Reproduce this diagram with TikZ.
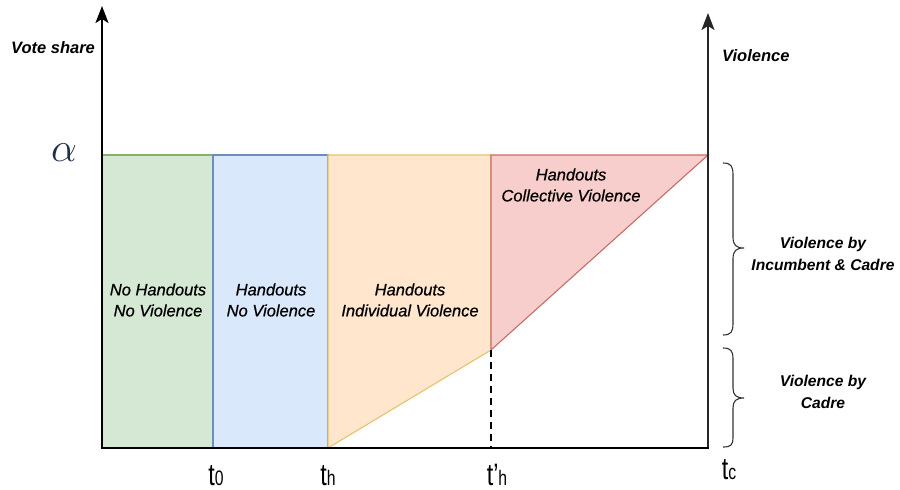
\documentclass[tikz,border=0pt]{standalone}
\usepackage{fontspec}
\setmainfont{Liberation Sans}
\usetikzlibrary{arrows.meta}
\definecolor{gfill}{HTML}{D5E8D4}\definecolor{gline}{HTML}{82B366}
\definecolor{bfill}{HTML}{DAE8FC}\definecolor{bline}{HTML}{6C8EBF}
\definecolor{ofill}{HTML}{FFE6CC}\definecolor{oline}{HTML}{E3C46B}
\definecolor{rfill}{HTML}{F8CECC}\definecolor{rline}{HTML}{C96B66}
\definecolor{alphacol}{HTML}{1F2D4D}
\tikzset{
  axis/.style={line width=2.2pt,draw=black,-{Stealth[length=17pt,width=13pt,inset=4pt]}},
  region/.style={line width=1.1pt},
  lbl/.style={font=\fontsize{16.5}{21}\selectfont\itshape\addfontfeature{FakeBold=0.6},align=center,inner sep=0pt},
  blbl/.style={font=\fontsize{16.5}{23}\selectfont\bfseries\itshape,align=center,inner sep=0pt},
  rlbl/.style={font=\fontsize{15.6}{22}\selectfont\bfseries\itshape,align=center,inner sep=0pt},
  bracestyle/.style={line width=1.1pt,draw=black!80},
  tick/.style={inner sep=0pt,anchor=base}
}
\newcommand{\tlab}[2]{\scalebox{0.75}[1]{\fontsize{31}{31}\selectfont #1\fontsize{21}{21}\selectfont #2}}
\begin{document}
\begin{tikzpicture}[x=1pt,y=-1pt]
\useasboundingbox (0,0) rectangle (900,490);
% coordinates
\coordinate (o) at (102,448);
\coordinate (ytop) at (102,6);
\coordinate (r0) at (708,448);
\coordinate (rtop) at (708,13);
% regions
\path[region,fill=gfill,draw=gline] (102,155) rectangle (213,448);
\path[region,fill=bfill,draw=bline] (213,155) rectangle (328,448);
\path[region,fill=ofill,draw=oline] (328,155) -- (491,155) -- (491,350) -- (328,448) -- cycle;
\path[region,fill=rfill,draw=rline] (491,155) -- (708,155) -- (491,350) -- cycle;
\coordinate (p) at (491,350);
\coordinate (pb) at (491,448);
\draw[line width=1.8pt,dash pattern=on 7pt off 5pt] (p) -- (pb);
% axes
\draw[axis] (o) -- (ytop);
\draw[axis,draw=black!85] (r0) -- (rtop);
\draw[line width=2.2pt] ([xshift=-1pt]o) -- ([xshift=1pt]r0);
% labels
\node[blbl] (vs) at (53,48) {Vote share};
\node[blbl,anchor=west] (vi) at (722,56) {Violence};
\node[text=alphacol,inner sep=0pt] (al) at (64,153) {\fontsize{24}{24}\selectfont\scalebox{1.65}{$\alpha$}};
\node[lbl] (l1) at (158,300) {No Handouts\\No Violence};
\node[lbl] (l2) at (271,300) {Handouts\\No Violence};
\node[lbl] (l3) at (410,300) {Handouts\\Individual Violence};
\node[lbl] (l4) at (571,185) {Handouts\\Collective Violence};
% ticks
\node[tick] (t0) at (216,485) {\tlab{t}{0}};
\node[tick] (th) at (328,485) {\tlab{t}{h}};
\node[tick] (tph) at (497,485) {\tlab{t'}{h}};
\node[tick] (tc) at (729,479) {\tlab{t}{c}};
% braces
\draw[bracestyle] (723,163) .. controls (731,163) and (733,166) .. (733,175) -- (733,237)
  .. controls (733,245) and (736,248) .. (744,248)
  .. controls (736,248) and (733,251) .. (733,259) -- (733,323)
  .. controls (733,332) and (731,335) .. (723,335);
\draw[bracestyle] (723,348) .. controls (731,348) and (733,351) .. (733,359) -- (733,388)
  .. controls (733,395) and (736,398) .. (744,398)
  .. controls (736,398) and (733,401) .. (733,408) -- (733,437)
  .. controls (733,445) and (731,447) .. (723,447);
\node[rlbl] (b1) at (823,254) {Violence by\\Incumbent \& Cadre};
\node[rlbl] (b2) at (823,392) {Violence by\\Cadre};
\end{tikzpicture}
\end{document}
